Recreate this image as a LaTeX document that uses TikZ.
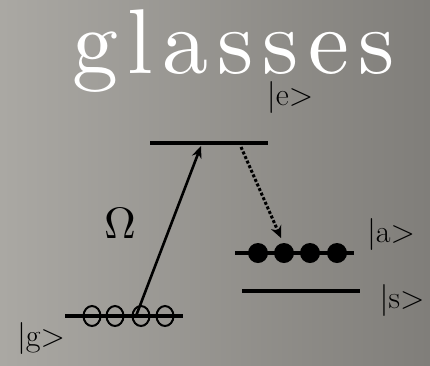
\documentclass[tikz,border=0pt]{standalone}
\usepackage{fontspec}
\newfontfamily\titlefont{lmroman10-regular.otf}[LetterSpace=10]
\usepackage{xcolor}
\usetikzlibrary{arrows.meta,positioning,calc,shapes.geometric}
\definecolor{bglight}{HTML}{B0AEA9}
\definecolor{bgdark}{HTML}{7A7874}

\begin{document}
\begin{tikzpicture}[x=1pt,y=-1pt,>=Stealth,
  level/.style={line width=4.5pt},
  hollow/.style={draw,ellipse,line width=2pt,minimum width=17pt,minimum height=20pt,inner sep=0pt},
  filled/.style={fill,circle,minimum size=20pt,inner sep=0pt},
  ket/.style={font=\fontsize{32}{32}\selectfont,inner sep=0pt}]
\useasboundingbox (0,0) rectangle (430,365);
\shade[shading angle=45,left color=bglight,right color=bgdark] (-60,-60) rectangle (490,425);
\node[white,anchor=base west,inner sep=0pt,font=\fontsize{92}{92}\titlefont] (title) at (72,73) {glasses};
% levels
\coordinate (eL) at (150,143); \coordinate (eR) at (268,143);
\coordinate (gL) at (65,316);  \coordinate (gR) at (183,316);
\coordinate (aL) at (235,253); \coordinate (aR) at (354,253);
\coordinate (sL) at (242,291); \coordinate (sR) at (360,291);
\draw[level] (eL) -- (eR);
\draw[level] (gL) -- (gR);
\draw[level] (aL) -- (aR);
\draw[level] (sL) -- (sR);
% atoms
\foreach \i/\x in {1/92,2/115,3/141,4/165}
  \node[hollow] (g\i) at (\x,316) {};
\foreach \i/\x in {1/258,2/284,3/310,4/337}
  \node[filled] (a\i) at (\x,253) {};
% transitions
\coordinate (pump) at (136,316);
\coordinate (etop) at (201,146);
\coordinate (decay) at (241,147);
\coordinate (adown) at (281,238);
\draw[line width=2.6pt,-{Stealth[length=12pt,width=10pt]}] (pump) -- (etop);
\draw[line width=3pt,dotted,-{Stealth[length=12pt,width=11pt]}] (decay) -- (adown);
% labels
\node[ket] (ke) at (290,97) {|e>};
\node[ket] (ka) at (391,234) {|a>};
\node[ket] (ks) at (402,300) {|s>};
\node[ket] (kg) at (41,338) {|g>};
\node[inner sep=0pt] (om) at (120,223) {\scalebox{4.4}{$\Omega$}};
\end{tikzpicture}
\end{document}
